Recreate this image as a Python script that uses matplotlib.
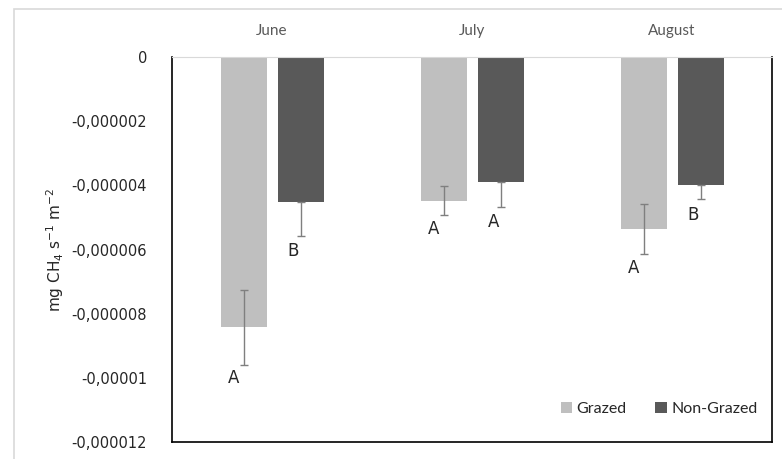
import matplotlib.pyplot as plt
from matplotlib.patches import Rectangle
import numpy as np

months = ['June', 'July', 'August']
grazed = [-8.42e-6, -4.48e-6, -5.36e-6]
grazed_err = [1.17e-6, 0.45e-6, 0.79e-6]
nongrazed = [-4.53e-6, -3.91e-6, -3.99e-6]
nongrazed_err = [1.05e-6, 0.75e-6, 0.44e-6]
grazed_letters = ['A', 'A', 'A']
nongrazed_letters = ['B', 'A', 'B']

plt.rcParams['font.family'] = ['Lato', 'DejaVu Sans']
plt.rcParams['mathtext.default'] = 'regular'

fig = plt.figure(figsize=(7.82, 4.59), dpi=100)
ax = fig.add_axes([172/782, 1-442/459, 600/782, 385/459])

# light frame around the whole chart
fig.patches.append(Rectangle((14/782, -0.1), 1.2, 1.1-9/459, transform=fig.transFigure,
                             fill=False, edgecolor='#d9d9d9', lw=1.2))

x = np.arange(len(months))
off = 0.1425
w = 0.23
ax.bar(x-off, grazed, w, color='#bfbfbf', label='Grazed', zorder=2)
ax.bar(x+off, nongrazed, w, color='#595959', label='Non-Grazed', zorder=2)

# grazed error bars both ways, non-grazed only downwards (upper half hidden by bar)
ax.errorbar(x-off, grazed, yerr=grazed_err, fmt='none', ecolor='#7f7f7f',
            elinewidth=1, capsize=3, capthick=1, zorder=3)
ax.errorbar(x+off, nongrazed, yerr=[nongrazed_err, [0]*3], fmt='none', ecolor='#7f7f7f',
            elinewidth=1, capsize=3, capthick=1, zorder=3)

for i in range(3):
    ax.text(x[i]-off-0.05, grazed[i]-grazed_err[i]-0.15e-6, grazed_letters[i],
            ha='center', va='top', fontsize=12, color='#262626', family='DejaVu Sans')
    ax.text(x[i]+off-0.035, nongrazed[i]-nongrazed_err[i]-0.2e-6, nongrazed_letters[i],
            ha='center', va='top', fontsize=12, color='#262626', family='DejaVu Sans')

ax.set_xlim(-0.5, 2.5)
ax.set_ylim(-0.000012, 0)
ax.set_yticks([0, -2e-6, -4e-6, -6e-6, -8e-6, -1e-5, -1.2e-5])
ax.set_yticklabels(['0', '-0,000002', '-0,000004', '-0,000006', '-0,000008', '-0,00001', '-0,000012'],
                   family='DejaVu Sans')
ax.tick_params(axis='y', length=0, labelsize=10.5, pad=18, labelcolor='#262626')

ax.xaxis.tick_top()
ax.set_xticks(x)
ax.set_xticklabels(months)
ax.tick_params(axis='x', length=0, labelsize=11, pad=14, labelcolor='#595959')

for s in ['left', 'bottom', 'right']:
    ax.spines[s].set_color('black')
    ax.spines[s].set_linewidth(1.2)
ax.spines['top'].set_color('#d9d9d9')

ax.set_ylabel('mg CH$_4$ s$^{-1}$ m$^{-2}$', fontsize=11, color='#262626', labelpad=4,
              family='DejaVu Sans')

ax.legend(loc='lower right', ncol=2, frameon=False, fontsize=11.5, handlelength=0.7,
          handleheight=0.7, handletextpad=0.3, columnspacing=1.8,
          bbox_to_anchor=(1.0, 0.03), labelcolor='#262626')

fig.savefig('out.png', dpi=100)
